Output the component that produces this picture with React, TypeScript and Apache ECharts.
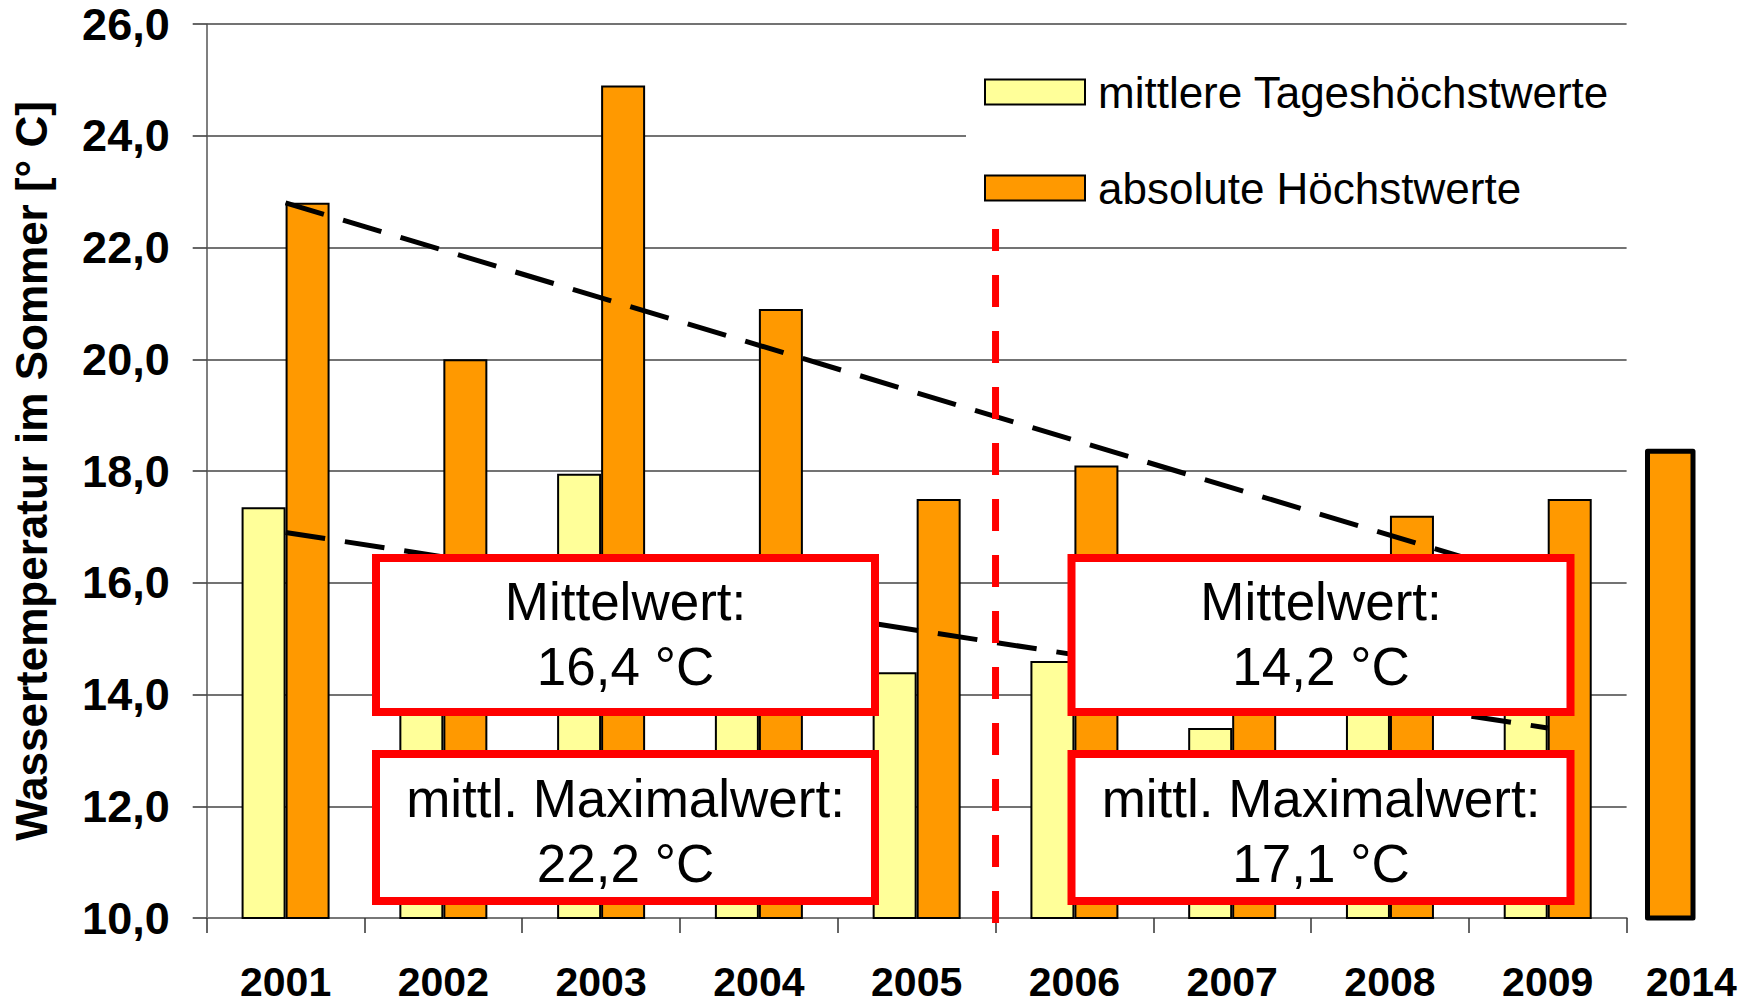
import React, { useEffect, useRef } from "react";
import * as echarts from "echarts";

// ---- data ----
const years = ["2001", "2002", "2003", "2004", "2005", "2006", "2007", "2008", "2009"];
const meanDailyMax = [17.35, 16.0, 17.95, 16.3, 14.4, 14.6, 13.4, 14.2, 14.6];
const absoluteMax = [22.8, 20.0, 24.9, 20.9, 17.5, 18.1, 15.6, 17.2, 17.5];
const extraYears = ["2014"];
const extraAbsoluteMax = [18.4];
// trend lines (x in category units, 0.5 = centre of 2001)
const trendAbsoluteMax = [[0.5, 22.8], [8.5, 16.0]];
const trendMeanDailyMax = [[0.5, 16.9], [8.5, 13.4]];
// red split line between 2005 and 2006 (drawn from the bottom up)
const splitLineData = [[5, 9.91], [5, 22.33]];
const yMin = 10;
const yMax = 26;
const yInterval = 2;
const seriesNames = ["mittlere Tageshöchstwerte", "absolute Höchstwerte"];
const boxes = [
  { cx: 625.5, top: ["Mittelwert:", "16,4 °C"], bottom: ["mittl. Maximalwert:", "22,2 °C"] },
  { cx: 1321, top: ["Mittelwert:", "14,2 °C"], bottom: ["mittl. Maximalwert:", "17,1 °C"] },
];

const FONT = '"Liberation Sans", Arial, sans-serif';

export default function App() {
  const ref = useRef<HTMLDivElement>(null);

  useEffect(() => {
    if (!ref.current) return;
    const chart = echarts.init(ref.current, undefined, { renderer: "svg" });

    const graphic: any[] = [];
    boxes.forEach((b) => {
      const w = 499;
      graphic.push({
        type: "rect",
        z: 100,
        shape: { x: b.cx - w / 2, y: 558, width: w, height: 154 },
        style: { fill: "#fff", stroke: "#FF0000", lineWidth: 8 },
      });
      graphic.push({
        type: "rect",
        z: 100,
        shape: { x: b.cx - w / 2, y: 754, width: w, height: 147 },
        style: { fill: "#fff", stroke: "#FF0000", lineWidth: 8 },
      });
      graphic.push({
        type: "text",
        z: 101,
        x: b.cx,
        y: 634,
        style: {
          text: b.top.join("\n"),
          fill: "#000",
          fontSize: 53,
          fontFamily: FONT,
          align: "center",
          verticalAlign: "middle",
          lineHeight: 65,
        },
      });
      graphic.push({
        type: "text",
        z: 101,
        x: b.cx,
        y: 831,
        style: {
          text: b.bottom.join("\n"),
          fill: "#000",
          fontSize: 53,
          fontFamily: FONT,
          align: "center",
          verticalAlign: "middle",
          lineHeight: 65,
        },
      });
    });

    const labelStyle = {
      fontSize: 41,
      fontWeight: "bold",
      color: "#000",
      fontFamily: FONT,
    };

    const option: any = {
      animation: false,
      backgroundColor: "#fff",
      textStyle: { fontFamily: FONT },
      grid: [
        { left: 206.7, right: 115.4, top: 24, bottom: 88, containLabel: false, outerBoundsMode: "none" },
        { left: 1645, width: 50.5, top: 24, bottom: 88, containLabel: false, outerBoundsMode: "none" },
      ],
      legend: {
        data: seriesNames,
        orient: "vertical",
        left: 966,
        top: 50,
        itemWidth: 100,
        itemHeight: 25,
        itemGap: 52,
        icon: "rect",
        backgroundColor: "#fff",
        padding: [20, 20, 20, 18],
        textStyle: { fontSize: 44, color: "#000", fontFamily: FONT, padding: [0, 0, 0, 8] },
      },
      xAxis: [
        {
          type: "category",
          gridIndex: 0,
          data: years,
          axisLine: { show: true, lineStyle: { color: "#777", width: 2 } },
          axisTick: { show: true, length: 15, interval: 0, alignWithLabel: false, lineStyle: { color: "#333", width: 1.5 } },
          axisLabel: { ...labelStyle, margin: 47, lineHeight: 34, interval: 0 },
          splitLine: { show: false },
        },
        {
          type: "value",
          gridIndex: 0,
          min: 0,
          max: 9,
          show: false,
          position: "top",
          splitLine: { show: false },
        },
        {
          type: "category",
          gridIndex: 1,
          data: extraYears,
          axisLine: { show: false },
          axisTick: { show: false },
          axisLabel: { ...labelStyle, margin: 47, lineHeight: 34, padding: [0, 0, 0, 42] },
          splitLine: { show: false },
        },
      ],
      yAxis: [
        {
          type: "value",
          gridIndex: 0,
          min: yMin,
          max: yMax,
          interval: yInterval,
          axisLine: { show: true, lineStyle: { color: "#555", width: 1.5 } },
          axisTick: { show: true, length: 14, lineStyle: { color: "#333", width: 1.5 } },
          splitLine: { show: true, lineStyle: { color: "#444", width: 1.5 } },
          axisLabel: {
            ...labelStyle,
            fontSize: 45,
            margin: 37,
            formatter: (v: number) => v.toFixed(1).replace(".", ","),
          },
          name: "Wassertemperatur im Sommer [° C]",
          nameLocation: "middle",
          nameRotate: 90,
          nameGap: 153,
          nameTextStyle: { fontSize: 44, fontWeight: "bold", color: "#000", fontFamily: FONT },
        },
        {
          type: "value",
          gridIndex: 1,
          min: yMin,
          max: yMax,
          interval: yInterval,
          show: false,
          splitLine: { show: false },
        },
      ],
      series: [
        {
          name: seriesNames[0],
          type: "bar",
          xAxisIndex: 0,
          yAxisIndex: 0,
          data: meanDailyMax,
          barWidth: 44,
          barGap: "0%",
          itemStyle: { color: "#FFFF99", borderColor: "#000", borderWidth: 2 },
        },
        {
          name: seriesNames[1],
          type: "bar",
          xAxisIndex: 0,
          yAxisIndex: 0,
          data: absoluteMax,
          barWidth: 44,
          barGap: "0%",
          itemStyle: { color: "#FF9900", borderColor: "#000", borderWidth: 2 },
        },
        {
          name: "2014",
          type: "bar",
          xAxisIndex: 2,
          yAxisIndex: 1,
          data: extraAbsoluteMax,
          barWidth: "100%",
          itemStyle: { color: "#FF9900", borderColor: "#000", borderWidth: 5, borderJoin: "round" },
        },
        {
          name: "trendMax",
          type: "line",
          xAxisIndex: 1,
          yAxisIndex: 0,
          data: trendAbsoluteMax,
          symbol: "none",
          z: 5,
          lineStyle: { color: "#000", width: 5, type: [40, 20], cap: "butt" },
        },
        {
          name: "trendMean",
          type: "line",
          xAxisIndex: 1,
          yAxisIndex: 0,
          data: trendMeanDailyMax,
          symbol: "none",
          z: 5,
          lineStyle: { color: "#000", width: 5, type: [40, 20], cap: "butt" },
        },
        {
          name: "split",
          type: "line",
          xAxisIndex: 1,
          yAxisIndex: 0,
          data: splitLineData,
          symbol: "none",
          clip: false,
          z: 6,
          lineStyle: { color: "#FF0000", width: 7, type: [32, 24], cap: "butt" },
        },
      ],
      graphic,
    };

    chart.setOption(option);
    return () => chart.dispose();
  }, []);

  return (
    <div
      ref={ref}
      style={{ position: "fixed", left: 0, top: 0, width: 1742, height: 1006, background: "#fff" }}
    />
  );
}
